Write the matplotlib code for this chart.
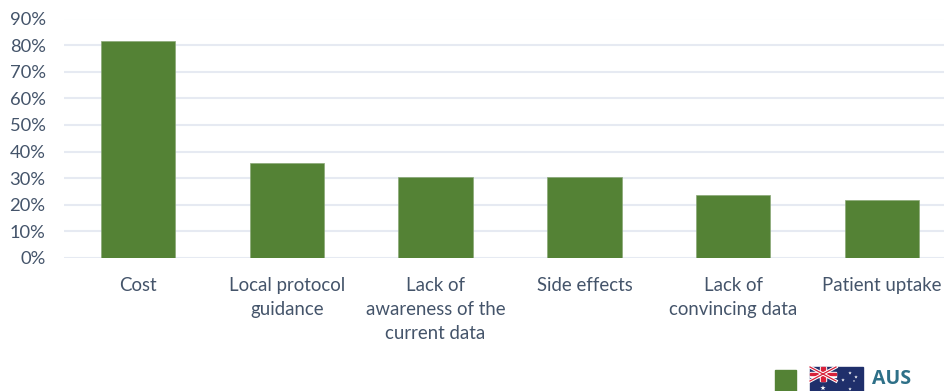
import matplotlib
matplotlib.use("Agg")
import matplotlib.pyplot as plt
from matplotlib.patches import Rectangle
from matplotlib.lines import Line2D

categories = ["Cost", "Local protocol\nguidance", "Lack of\nawareness of the\ncurrent data",
              "Side effects", "Lack of\nconvincing data", "Patient uptake"]
values = [81.4, 35.6, 30.4, 30.4, 23.7, 21.8]
y_ticks = [0, 10, 20, 30, 40, 50, 60, 70, 80, 90]

GREEN = "#548235"
TEXT = "#44546a"
W, H = 945, 391

plt.rcParams['font.family'] = ['Lato', 'DejaVu Sans']

fig = plt.figure(figsize=(W / 100, H / 100), dpi=100)
ax = fig.add_axes([63.6 / W, 1 - 258 / H, 892.8 / W, 239.5 / H])

x = range(len(categories))
ax.bar(x, values, width=0.5, color=GREEN, edgecolor="#8aa877", linewidth=0.5, zorder=3)
ax.set_xlim(-0.5, 5.5)
ax.set_ylim(0, 90)
ax.set_yticks(y_ticks)
ax.set_yticklabels([f"{t}%" for t in y_ticks], fontsize=13.2, color=TEXT)
ax.set_xticks(list(x))
ax.set_xticklabels(categories, fontsize=13.4, color=TEXT, linespacing=1.5)
ax.tick_params(axis="both", length=0)
ax.tick_params(axis="y", pad=13)
ax.tick_params(axis="x", pad=14)
ax.grid(axis="y", color="#e6eaf2", linewidth=1.5, zorder=0)
ax.set_axisbelow(True)
for s in ax.spines.values():
    s.set_visible(False)

# legend row, drawn in pixel coordinates along the bottom edge
lg = fig.add_axes([0, 0, 1, 1], facecolor="none")
lg.set_xlim(0, W)
lg.set_ylim(H, 0)
lg.axis("off")
lg.add_patch(Rectangle((774.5, 370), 21.5, 21, color=GREEN))

# flag
navy = "#1f2f6b"
red = "#d8213a"
fx, fy, fw, fh = 810, 367, 53, 28
lg.add_patch(Rectangle((fx, fy), fw, fh, color=navy))
cw, ch = 26, 14
lg.add_line(Line2D([fx, fx + cw], [fy, fy + ch], color="white", lw=2.4))
lg.add_line(Line2D([fx, fx + cw], [fy + ch, fy], color="white", lw=2.4))
lg.add_line(Line2D([fx, fx + cw], [fy, fy + ch], color=red, lw=0.9))
lg.add_line(Line2D([fx, fx + cw], [fy + ch, fy], color=red, lw=0.9))
lg.add_patch(Rectangle((fx + cw / 2 - 3, fy), 6, ch, color="white"))
lg.add_patch(Rectangle((fx, fy + ch / 2 - 2.5), cw, 5, color="white"))
lg.add_patch(Rectangle((fx + cw / 2 - 1.6, fy), 3.2, ch, color=red))
lg.add_patch(Rectangle((fx, fy + ch / 2 - 1.3), cw, 2.6, color=red))
star_x = [fx + 13, fx + 40, fx + 33, fx + 46, fx + 40, fx + 44]
star_y = [fy + 21, fy + 6, fy + 13, fy + 10, fy + 22, fy + 14]
star_s = [16, 7, 7, 7, 7, 3]
lg.scatter(star_x, star_y, s=star_s, marker="*", color="white", linewidths=0)

lg.text(872.5, 379, "AUS", fontsize=14, fontweight="bold", family=["Open Sans", "DejaVu Sans"],
        color="#2e7088", va="center", ha="left")

fig.savefig("out.png", dpi=100)
